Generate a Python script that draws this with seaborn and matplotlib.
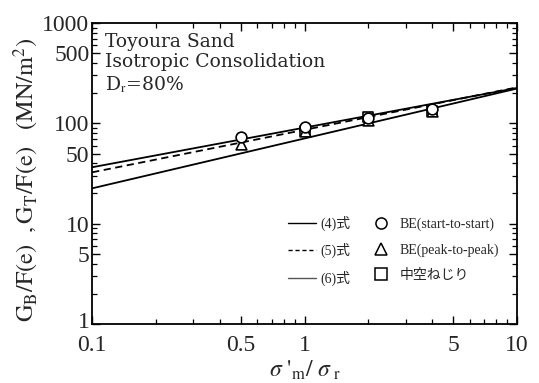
import matplotlib
matplotlib.use("Agg")
import matplotlib.pyplot as plt
import matplotlib.ticker as mticker
import matplotlib.transforms as mtransforms
from matplotlib.lines import Line2D
import seaborn as sns

# ---- data ----
line_x = [0.1, 10.0]
eq4_y = [36.5, 225.0]   # (4)式 solid
eq5_y = [32.5, 228.0]   # (5)式 dashed
eq6_y = [22.5, 222.0]   # (6)式 lower solid

be_ss_x = [0.5, 1.0, 2.0, 4.0]
be_ss_y = [73.0, 91.0, 113.0, 139.0]
be_pp_x = [0.5, 1.0, 2.0, 4.0]
be_pp_y = [62.0, 84.0, 108.0, 134.0]
hollow_x = [1.0, 2.0, 4.0]
hollow_y = [84.0, 116.0, 134.0]

x_ticks = [0.1, 0.5, 1, 5, 10]
x_tick_labels = ["0.1", "0.5", "1", "5", "10"]
y_ticks = [1, 5, 10, 50, 100, 500, 1000]
y_tick_labels = ["1", "5", "10", "50", "100", "500", "1000"]

sns.set_style("ticks")
plt.rcParams["font.family"] = ["Liberation Serif", "Noto Sans CJK JP"]
plt.rcParams["mathtext.fontset"] = "stix"

fig = plt.figure(figsize=(5.39, 3.83), dpi=100)
ax = fig.add_axes([0.171, 0.154, 0.788, 0.786])

lw = 1.3
sns.lineplot(x=line_x, y=eq4_y, ax=ax, color="black", lw=lw)
sns.lineplot(x=line_x, y=eq5_y, ax=ax, color="black", lw=lw, linestyle=(0, (4, 2.5)))
sns.lineplot(x=line_x, y=eq6_y, ax=ax, color="black", lw=lw)

mk = dict(facecolor="white", edgecolor="black", linewidth=1.2, s=60, zorder=3)
sns.scatterplot(x=hollow_x, y=hollow_y, ax=ax, marker="s", **mk)
sns.scatterplot(x=be_pp_x, y=be_pp_y, ax=ax, marker="^", **mk)
sns.scatterplot(x=be_ss_x, y=be_ss_y, ax=ax, marker="o", **mk)

ax.set_xscale("log")
ax.set_yscale("log")
ax.set_xlim(0.1, 10)
ax.set_ylim(1, 1000)

ax.xaxis.set_major_locator(mticker.FixedLocator(x_ticks))
ax.xaxis.set_major_formatter(mticker.FixedFormatter(x_tick_labels))
ax.yaxis.set_major_locator(mticker.FixedLocator(y_ticks))
ax.yaxis.set_major_formatter(mticker.FixedFormatter(y_tick_labels))
ax.xaxis.set_minor_locator(mticker.LogLocator(base=10, subs=range(2, 10)))
ax.yaxis.set_minor_locator(mticker.LogLocator(base=10, subs=range(2, 10)))
ax.xaxis.set_minor_formatter(mticker.NullFormatter())
ax.yaxis.set_minor_formatter(mticker.NullFormatter())

ax.tick_params(which="both", direction="in", top=True, right=True, color="black")
ax.tick_params(which="major", length=6, width=1.0, labelsize=17)
ax.tick_params(axis="y", which="major", pad=2)
ax.tick_params(axis="x", which="major", pad=8)
ax.tick_params(which="minor", length=3.5, width=0.9)
for s in ax.spines.values():
    s.set_linewidth(1.3)
    s.set_color("black")

# nudge the lowest y tick label up slightly so it clears "0.1"
fig.canvas.draw()
for lab in ax.get_yticklabels():
    if lab.get_text() == "1":
        lab.set_transform(lab.get_transform() +
                          mtransforms.ScaledTranslation(0, 4 / 100, fig.dpi_scale_trans))

ax.set_xlabel(r"$\sigma\ '_{\mathrm{m}}/\ \sigma_{\ \mathrm{r}}$", fontsize=17, labelpad=2)
ax.set_ylabel(r"$\mathrm{G_B/F(e)\ \ ,G_T/F(e)\ \ \ (MN/m^2)}$", fontsize=17.5)
ax.yaxis.set_label_coords(-0.12, 0.48)

ax.text(0.03, 0.968, "Toyoura Sand\nIsotropic Consolidation\nD$_\\mathrm{r}$=80%",
        transform=ax.transAxes, ha="left", va="top", fontsize=13.5,
        family="DejaVu Serif", linespacing=1.2)

handles = [
    Line2D([], [], color="black", lw=1.0),
    Line2D([], [], color="black", lw=1.0, linestyle=(0, (3, 2))),
    Line2D([], [], color="#555555", lw=1.0),
    Line2D([], [], marker="o", ls="none", mfc="white", mec="black", ms=8, mew=1.1),
    Line2D([], [], marker="^", ls="none", mfc="white", mec="black", ms=8, mew=1.1),
    Line2D([], [], marker="s", ls="none", mfc="white", mec="black", ms=8, mew=1.1),
]
labels = ["(4)式", "(5)式", "(6)式", "BE(start-to-start)", "BE(peak-to-peak)", "中空ねじり"]
leg = ax.legend(handles, labels, ncol=2, loc="center", bbox_to_anchor=(0.71, 0.243),
                frameon=False, fontsize=10, handlelength=2.0, handletextpad=0.35,
                columnspacing=1.2, labelspacing=0.9)

fig.savefig("out.png", dpi=100)
